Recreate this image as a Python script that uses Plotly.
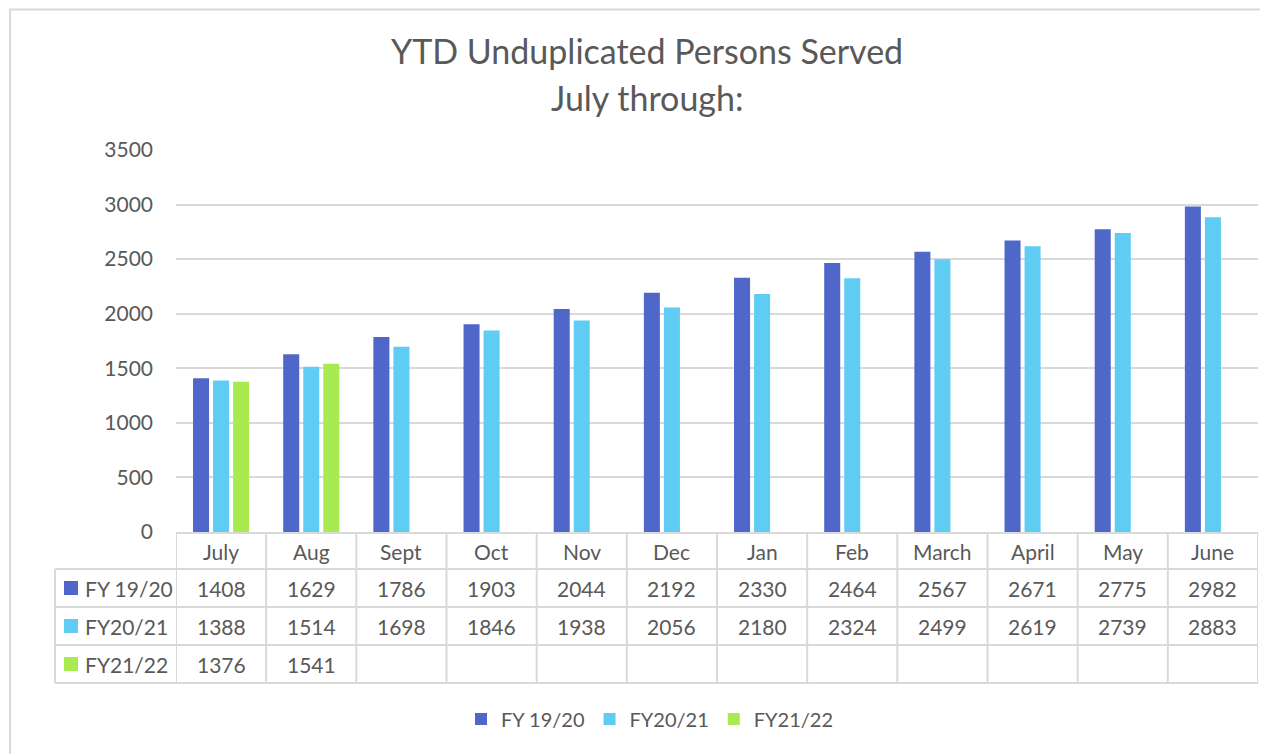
import plotly.graph_objects as go

months = ["July", "Aug", "Sept", "Oct", "Nov", "Dec", "Jan", "Feb", "March", "April", "May", "June"]
series_names = ["FY 19/20", "FY20/21", "FY21/22"]
fy1920 = [1408, 1629, 1786, 1903, 2044, 2192, 2330, 2464, 2567, 2671, 2775, 2982]
fy2021 = [1388, 1514, 1698, 1846, 1938, 2056, 2180, 2324, 2499, 2619, 2739, 2883]
fy2122 = [1376, 1541, None, None, None, None, None, None, None, None, None, None]
colors = ["#4F67C8", "#5FCDF3", "#A8EA50"]
y_ticks = [0, 500, 1000, 1500, 2000, 2500, 3000, 3500]
title_line1 = "YTD Unduplicated Persons Served"
title_line2 = "July through:"

OFF = 8  # page body margin
W, H = 1268 - OFF, 754 - OFF
L, R, T, B = 176, 1258, 150, 532  # page pixel positions of plot area
FONT = "Lato"
TXT = "#595959"
GRID = "#D9D9D9"

def py(p):  # page pixel y -> paper y
    return (B - p) / (B - T)

def px(p):  # page pixel x -> paper x
    return (p - L) / (R - L)

series = [fy1920, fy2021, fy2122]
x_idx = list(range(len(months)))

fig = go.Figure()
for name, vals, c in zip(series_names, series, colors):
    fig.add_trace(go.Bar(x=x_idx, y=vals, name=name, marker=dict(color=c, line=dict(width=0)),
                         hoverinfo="x+y"))

shapes = []
annotations = []

row_edges = [532, 569, 607, 645, 683]
line_style = dict(color=GRID, width=2)

for p in row_edges[1:]:
    shapes.append(dict(type="line", xref="paper", yref="paper", x0=px(55), x1=1, y0=py(p), y1=py(p), line=line_style))
for i in range(len(months) + 1):
    shapes.append(dict(type="line", xref="x", yref="paper", x0=i - 0.5, x1=i - 0.5, y0=py(532), y1=py(683), line=line_style))
shapes.append(dict(type="line", xref="paper", yref="paper", x0=px(55), x1=px(55), y0=py(569), y1=py(683), line=line_style))

TF = dict(family=FONT, size=21, color=TXT)
for i, m in enumerate(months):
    annotations.append(dict(x=i, y=py(551), xref="x", yref="paper", text=m, showarrow=False,
                            font=TF, xanchor="center", yanchor="middle"))
for r, (name, vals, c) in enumerate(zip(series_names, series, colors)):
    yc = py((row_edges[r + 1] + row_edges[r + 2]) / 2)
    shapes.append(dict(type="rect", xref="paper", yref="paper", x0=px(64), x1=px(78),
                       y0=yc - 7 / (B - T), y1=yc + 7 / (B - T), fillcolor=c, line=dict(width=0)))
    annotations.append(dict(x=px(83), y=yc, xref="paper", yref="paper", text=name, showarrow=False,
                            font=TF, xanchor="left", yanchor="middle"))
    for i, v in enumerate(vals):
        if v is not None:
            annotations.append(dict(x=i, y=yc, xref="x", yref="paper", text=str(v), showarrow=False,
                                    font=TF, xanchor="center", yanchor="middle"))

TTF = dict(family=FONT, size=34, color=TXT)
annotations.append(dict(x=px(647), y=py(50), xref="paper", yref="paper", text=title_line1, showarrow=False,
                        font=TTF, xanchor="center", yanchor="middle"))
annotations.append(dict(x=px(647), y=py(98), xref="paper", yref="paper", text=title_line2, showarrow=False,
                        font=TTF, xanchor="center", yanchor="middle"))

# outer chart border (top edge kept inside the drawable figure)
shapes.append(dict(type="rect", xref="paper", yref="paper", x0=px(10), x1=px(1300), y0=py(800), y1=py(9.5),
                   line=dict(color=GRID, width=2), fillcolor="rgba(0,0,0,0)", layer="below"))

fig.update_layout(
    width=W, height=H,
    margin=dict(l=L - OFF, r=W - (R - OFF), t=T - OFF, b=H - (B - OFF), pad=0),
    paper_bgcolor="white", plot_bgcolor="white",
    barmode="group", bargap=1/3, bargroupgap=0.2,
    font=dict(family=FONT, color=TXT),
    showlegend=True,
    legend=dict(orientation="h", xref="container", yref="container", x=(650 - OFF) / W, xanchor="center",
                y=1 - (719 - OFF) / H, yanchor="middle", font=dict(family=FONT, size=20, color=TXT),
                itemwidth=30, tracegroupgap=0),
    xaxis=dict(range=[-0.5, len(months) - 0.5], showticklabels=False, showgrid=False, zeroline=False,
               showline=True, linecolor=GRID, linewidth=2, ticks="", fixedrange=True),
    yaxis=dict(range=[0, 3500], tickvals=y_ticks, showgrid=True, gridcolor=GRID, gridwidth=2,
               zeroline=False, showline=False, ticks="", ticklabelstandoff=22,
               tickfont=dict(family=FONT, size=21, color=TXT), fixedrange=True),
    shapes=shapes, annotations=annotations,
)

fig.write_html("out.html")
